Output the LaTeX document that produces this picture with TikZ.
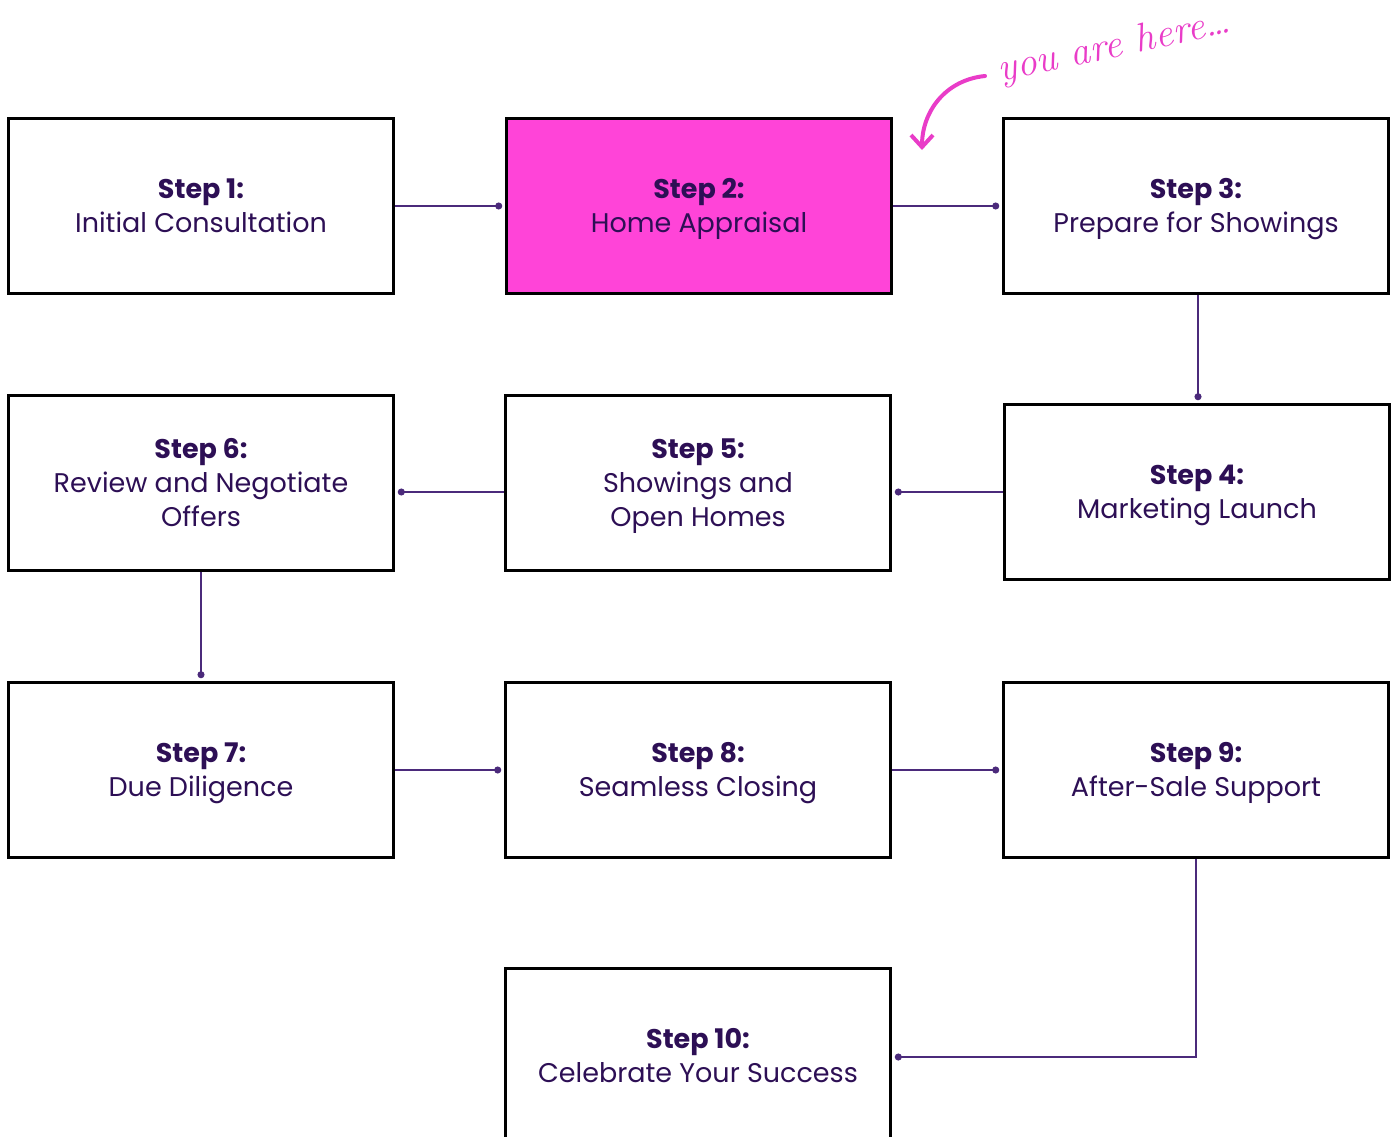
\documentclass[tikz,border=0pt]{standalone}
\usepackage{fontspec}
\setmainfont{Poppins}
\usetikzlibrary{arrows.meta}

\definecolor{stepink}{HTML}{2D0F55}
\definecolor{linkpurple}{HTML}{4B2A7B}
\definecolor{hotpink}{HTML}{FF44D8}
\definecolor{notepink}{HTML}{E93CC8}

\newcommand{\steptext}[2]{\rule{0pt}{30pt}\textbf{#1}\\#2\strut}

\tikzset{
  stepbox/.style={draw=black, line width=2.6pt, fill=white, minimum width=385pt,
    minimum height=175pt, text=stepink, align=center, inner sep=0pt,
    font=\fontsize{27}{34}\selectfont},
  link/.style={draw=linkpurple, line width=1.8pt, -{Circle[length=7pt]}, shorten >=3pt}
}

\begin{document}
\begin{tikzpicture}[x=1pt, y=-1pt]

                \clip (0,0) rectangle (1397,1137);

                % row one
                \node[stepbox] (s1) at (201,206) {\steptext{Step 1:}{Initial Consultation}};
                \node[stepbox, fill=hotpink] (s2) at (699,206) {\steptext{Step 2:}{Home Appraisal}};
                \node[stepbox] (s3) at (1196,206) {\steptext{Step 3:}{Prepare for Showings}};

                % row two
                \node[stepbox] (s4) at (1197,492) {\steptext{Step 4:}{Marketing Launch}};
                \node[stepbox] (s5) at (698,483) {\steptext{Step 5:}{Showings and\\Open Homes}};
                \node[stepbox] (s6) at (201,483) {\steptext{Step 6:}{Review and Negotiate\\Offers}};

                % row three
                \node[stepbox] (s7) at (201,770) {\steptext{Step 7:}{Due Diligence}};
                \node[stepbox] (s8) at (698,770) {\steptext{Step 8:}{Seamless Closing}};
                \node[stepbox] (s9) at (1196,770) {\steptext{Step 9:}{After-Sale Support}};

                \node[stepbox] (s10) at (698,1056) {\steptext{Step 10:}{Celebrate Your Success}};

                % connectors
                \draw[link] (s1.east) -- (s2.west);
                \draw[link] (s2.east) -- (s3.west);
                \draw[link] (s3.south -| 1198,0) -- (s4.north -| 1198,0);
                \draw[link] (s4.west) -- (s4.west -| s5.east);
                \draw[link] (s4.west -| s5.west) -- (s4.west -| s6.east);
                \draw[link] (s6.south) -- (s7.north);
                \draw[link] (s7.east) -- (s8.west);
                \draw[link] (s8.east) -- (s9.west);
                \coordinate (bend) at (s9.south |- 0,1057);
                \draw[link] (s9.south) -- (bend) -- (bend -| s10.east);

                % you are here
                \node[text=notepink, font=\fontsize{40}{40}\selectfont\fontspec{Latin Modern Roman}\itshape,
                      rotate=12, anchor=south west, inner sep=0pt] (here) at (1002,90) {you are here\dots};
                \draw[notepink, line width=4pt, line cap=round, -{Straight Barb[length=12pt, width=22pt]}]
                      (985,76) .. controls (945,80) and (922,112) .. (922,150);

\end{tikzpicture}
\end{document}
